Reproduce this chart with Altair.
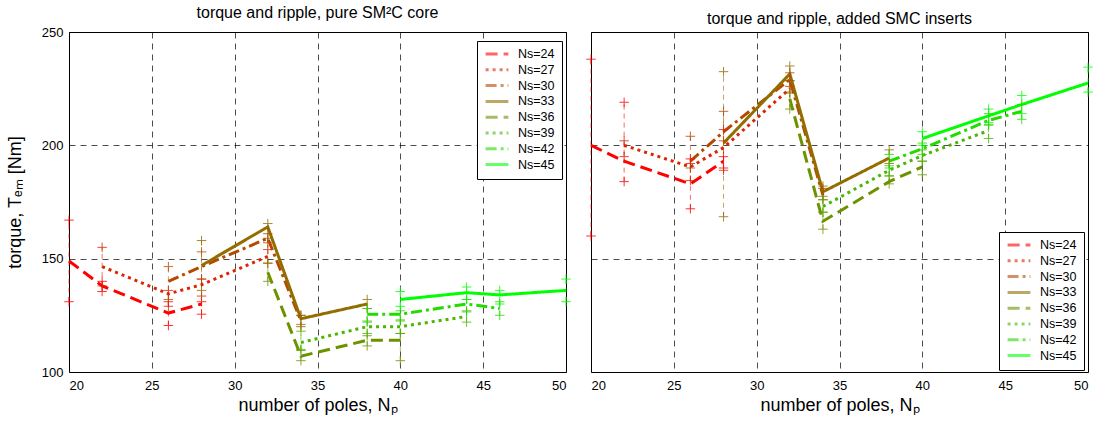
import altair as alt
import pandas as pd

series = ["Ns=24", "Ns=27", "Ns=30", "Ns=33", "Ns=36", "Ns=39", "Ns=42", "Ns=45"]
colors = ["#ff0000", "#db2400", "#b64900", "#926d00", "#6d9200", "#49b600", "#24db00", "#00ff00"]
dashes = [[12, 6], [3, 4], [11, 4, 3, 4], [1, 0], [12, 6], [3, 4], [11, 4, 3, 4], [1, 0]]

# number of poles for each stator slot count
poles = [
    [20, 22, 26, 28],
    [22, 26, 28, 32],
    [26, 28, 32, 34],
    [28, 32, 34, 38],
    [32, 34, 38, 40],
    [34, 38, 40, 44],
    [38, 40, 44, 46],
    [40, 44, 46, 50],
]

# left panel: pure SM2C core (mean torque, min, max)
core_mean = [
    [149, 138, 126, 130],
    [146.5, 134.5, 138.5, 151],
    [140, 146.5, 159, 122.5],
    [147, 164, 123.5, 130],
    [144, 107, 114, 114],
    [113, 120, 120, 124.5],
    [125.5, 125.5, 130, 128],
    [132, 135, 134, 136],
]
core_lo = [
    [131, 135.5, 120.5, 125.5],
    [138, 129, 133.5, 148],
    [132, 141, 157, 120],
    [136, 159, 121, 128],
    [140, 105, 111.5, 105],
    [110, 117, 117, 122],
    [122.5, 123, 126.5, 125],
    [129, 132, 130, 131],
]
core_hi = [
    [167, 140, 131, 131],
    [155, 136, 141, 154],
    [146.5, 153, 161, 125],
    [158, 165.5, 125, 132],
    [148, 109.5, 116, 117],
    [118, 122, 122.5, 127],
    [128, 127, 132, 131],
    [135.5, 137.5, 136, 141],
]

# right panel: added SMC inserts
ins_mean = [
    [200, 193, 183, 193],
    [200, 190.5, 199, 225],
    [193, 206, 229, 178],
    [201, 231.5, 179.5, 194.4],
    [220.5, 166.5, 184, 190.5],
    [173, 189, 195.5, 206.5],
    [193, 198.5, 211, 215],
    [203, 213, 218, 227.5],
]
ins_lo = [
    [160, 184, 172, 190],
    [195, 184.5, 189, 223.5],
    [190, 202, 226, 176],
    [168.5, 228.5, 177.5, 192],
    [216, 163, 183, 187],
    [170.5, 186.5, 193, 203],
    [190, 196, 209, 211.5],
    [200, 210, 214, 223.5],
]
ins_hi = [
    [238, 219, 194, 195],
    [202, 192, 207, 228.5],
    [204, 215, 232, 181],
    [232.5, 235, 182, 198],
    [223, 170.5, 186.5, 193],
    [176, 191, 198, 209],
    [196, 201, 214, 218],
    [206, 216, 222, 234.5],
]

FONT = "Liberation Sans"


def make_df(mean, lo, hi):
    rows = []
    for i, s in enumerate(series):
        for j, x in enumerate(poles[i]):
            rows.append({"Ns": s, "order": i, "hex": colors[i], "x": x,
                         "mean": mean[i][j], "lo": lo[i][j], "hi": hi[i][j]})
    return pd.DataFrame(rows)


def panel(df, title, legend_y, show_y):
    xenc = alt.X("x:Q", scale=alt.Scale(domain=[20, 50], nice=False, zero=False),
                 axis=alt.Axis(values=[20, 25, 30, 35, 40, 45, 50],
                               title="number of poles, N\u209a", grid=True, titlePadding=4))
    if show_y:
        yaxis = alt.Axis(values=[100, 150, 200, 250], title="torque, T\u2091\u2098 [Nm]", grid=True,
                         labelPadding=6, titlePadding=17)
    else:
        yaxis = alt.Axis(values=[100, 150, 200, 250], title=None, labels=False, grid=True,
                         labelPadding=0, minExtent=0, maxExtent=0)
    yscale = alt.Scale(domain=[100, 250], nice=False, zero=False)

    leg = alt.Legend(title=None, orient="none", legendX=408, legendY=legend_y,
                     fillColor="white", strokeColor="black", padding=7,
                     symbolType="stroke", symbolSize=520, symbolStrokeWidth=3,
                     clipHeight=12, rowPadding=2.8,
                     labelFontSize=12.5, labelFont=FONT, labelColor="black",
                     labelOffset=8)

    lines = alt.Chart(df).mark_line(strokeWidth=3).encode(
        x=xenc,
        y=alt.Y("mean:Q", scale=yscale, axis=yaxis),
        color=alt.Color("Ns:N", scale=alt.Scale(domain=series, range=colors), legend=leg),
        strokeDash=alt.StrokeDash("Ns:N", scale=alt.Scale(domain=series, range=dashes), legend=leg),
        order=alt.Order("x:Q"),
    )
    rules = alt.Chart(df).mark_rule(strokeWidth=1, strokeDash=[5, 4], opacity=0.6).encode(
        x="x:Q",
        y="lo:Q",
        y2="hi:Q",
        color=alt.Color("hex:N", scale=None),
    )
    pts = alt.Chart(df).transform_fold(["lo", "hi"], as_=["kind", "val"]).mark_point(
        shape="M-1,0H1M0,-1V1", size=90, strokeWidth=1, filled=False, opacity=0.8
    ).encode(
        x="x:Q",
        y="val:Q",
        color=alt.Color("hex:N", scale=None),
    )
    return alt.layer(lines, rules, pts).properties(
        width=497, height=340,
        title=alt.TitleParams(title, fontSize=16, font=FONT, fontWeight="normal",
                              color="black", offset=5, anchor="middle"),
    )


left = panel(make_df(core_mean, core_lo, core_hi), "torque and ripple, pure SM\u00b2C core", 9, True)
right = panel(make_df(ins_mean, ins_lo, ins_hi), "torque and ripple, added SMC inserts", 200, False)

chart = alt.hconcat(left, right, spacing=9).resolve_scale(
    color="independent", strokeDash="independent"
).configure(
    padding={"left": 5, "top": 4, "right": 0, "bottom": 0},
    background="white",
).configure_view(
    stroke="black", strokeWidth=1
).configure_axis(
    domain=False, ticks=False,
    gridColor="black", gridDash=[6, 5], gridOpacity=0.7, gridWidth=1,
    labelFont=FONT, labelFontSize=13, labelColor="black", labelPadding=7,
    titleFont=FONT, titleFontSize=18, titleColor="black", titleFontWeight="normal",
)

chart.save("out.html", embed_options={"renderer": "svg", "actions": False})
